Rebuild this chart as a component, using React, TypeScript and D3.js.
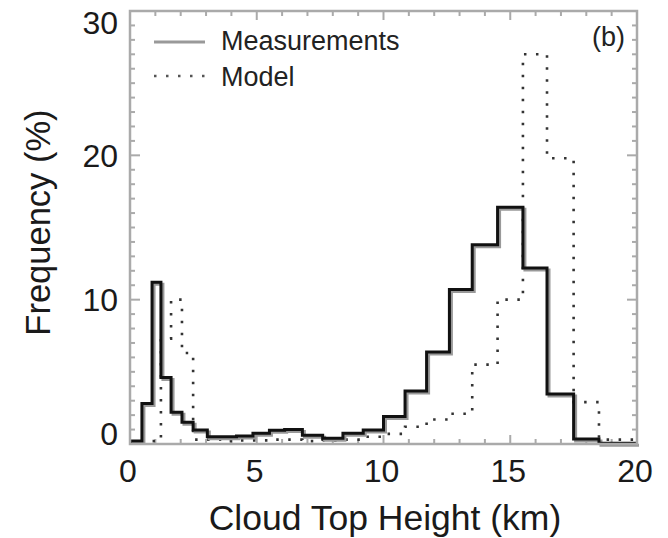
import React from "react";
import * as d3 from "d3";

// Bin edges (km) and frequencies (%)
const binEdges = [0, 0.47, 0.87, 1.22, 1.62, 2.05, 2.49, 3.05, 3.6, 4.2, 4.85, 5.5, 6.1, 6.8, 7.6, 8.4, 9.2, 10.0, 10.85, 11.7, 12.6, 13.5, 14.5, 15.5, 16.45, 17.5, 18.5, 19.5, 20];
const measurements = [0.2, 2.8, 11.2, 4.6, 2.2, 1.5, 0.97, 0.5, 0.5, 0.55, 0.75, 0.95, 1.0, 0.6, 0.4, 0.75, 0.97, 1.9, 3.67, 6.37, 10.7, 13.8, 16.4, 12.2, 3.46, 0.35, 0.05, 0.05];
const model = [0.1, 0.1, 0.2, 7.3, 10.0, 6.3, 0.3, 0.3, 0.2, 0.25, 0.25, 0.3, 0.3, 0.2, 0.25, 0.3, 0.5, 0.7, 1.2, 1.7, 2.1, 5.5, 10.0, 27.0, 19.8, 2.9, 0.3, 0.3];
const xTickLabels = [0, 5, 10, 15, 20];
const yTickLabels = [0, 10, 20, 30];
const legendLabels = ["Measurements", "Model"];
const panelLabel = "(b)";
const xTitle = "Cloud Top Height (km)";
const yTitle = "Frequency (%)";

const W = 668;
const H = 538;
const L = 130, R = 637, T = 11, B = 444;
const FONT = "'Liberation Sans', Arial, Helvetica, sans-serif";

export default function App() {
  const x = d3.scaleLinear().domain([0, 20]).range([L, R]);
  const y = d3.scaleLinear().domain([0, 30]).range([B, T]);

  const stepPts = (vals: number[]) =>
    vals.flatMap((v, i) => [
      [binEdges[i], v] as [number, number],
      [binEdges[i + 1], v] as [number, number],
    ]);
  const line = d3
    .line<[number, number]>()
    .x((d) => x(d[0]))
    .y((d) => y(d[1]));

  const measPath = line(stepPts(measurements)) || "";
  const modelPath = line(stepPts(model)) || "";

  const xMinor = d3.range(0, 21, 1);
  const yMinor = d3.range(0, 31, 1);
  const axisColor = "#aaa";
  const textColor = "#1a1a1a";

  return (
    <svg width={W} height={H} style={{ position: "absolute", left: 0, top: 0, background: "#fff" }}>
      {/* ticks */}
      <g stroke={axisColor} strokeWidth={2}>
        {xMinor.map((v) => {
          const len = v % 5 === 0 ? 9 : 5;
          return (
            <g key={"xt" + v}>
              <line x1={x(v)} x2={x(v)} y1={B} y2={B - len} />
              <line x1={x(v)} x2={x(v)} y1={T} y2={T + len} />
            </g>
          );
        })}
        {yMinor.map((v) => {
          const len = v % 10 === 0 ? 10 : 5;
          return (
            <g key={"yt" + v}>
              <line x1={L} x2={L + len} y1={y(v)} y2={y(v)} />
              <line x1={R} x2={R - len} y1={y(v)} y2={y(v)} />
            </g>
          );
        })}
      </g>

      {/* model (dotted) */}
      <path d={modelPath} fill="none" stroke="#333" strokeWidth={2.6} strokeDasharray="2.5 9.5" />

      {/* measurements */}
      <path d={measPath} fill="none" stroke="#999" strokeWidth={3} transform="translate(2,2)" />
      <path d={measPath} fill="none" stroke="#111" strokeWidth={3} strokeLinejoin="miter" />

      {/* frame */}
      <rect x={L} y={T} width={R - L} height={B - T} fill="none" stroke={axisColor} strokeWidth={2.5} />

      {/* y tick labels */}
      <g fontFamily={FONT} fontSize={32} fill={textColor} textAnchor="end">
        {yTickLabels.map((v) => {
          const cy = Math.min(Math.max(y(v), T + 11), B - 11);
          return (
            <text key={"yl" + v} x={118} y={cy + 11.5}>
              {v}
            </text>
          );
        })}
      </g>

      {/* x tick labels */}
      <g fontFamily={FONT} fontSize={32} fill={textColor} textAnchor="middle">
        {xTickLabels.map((v) => (
          <text key={"xl" + v} x={x(v) - 2} y={482}>
            {v}
          </text>
        ))}
      </g>

      {/* axis titles */}
      <text x={385} y={530} fontFamily={FONT} fontSize={35.5} fill={textColor} textAnchor="middle">
        {xTitle}
      </text>
      <text
        transform={`translate(50, ${(T + B) / 2 - 5}) rotate(-90)`}
        fontFamily={FONT}
        fontSize={34.5}
        fill={textColor}
        textAnchor="middle"
      >
        {yTitle}
      </text>

      {/* legend */}
      <line x1={154} x2={205} y1={42} y2={42} stroke="#999" strokeWidth={3} />
      <text x={221} y={50} fontFamily={FONT} fontSize={27} fill="#222">
        {legendLabels[0]}
      </text>
      <line x1={154} x2={205} y1={76} y2={76} stroke="#555" strokeWidth={2.5} strokeDasharray="2.5 9.5" />
      <text x={221} y={86} fontFamily={FONT} fontSize={27} fill="#222">
        {legendLabels[1]}
      </text>
      <text x={625} y={46} fontFamily={FONT} fontSize={27} fill="#222" textAnchor="end">
        {panelLabel}
      </text>
    </svg>
  );
}
